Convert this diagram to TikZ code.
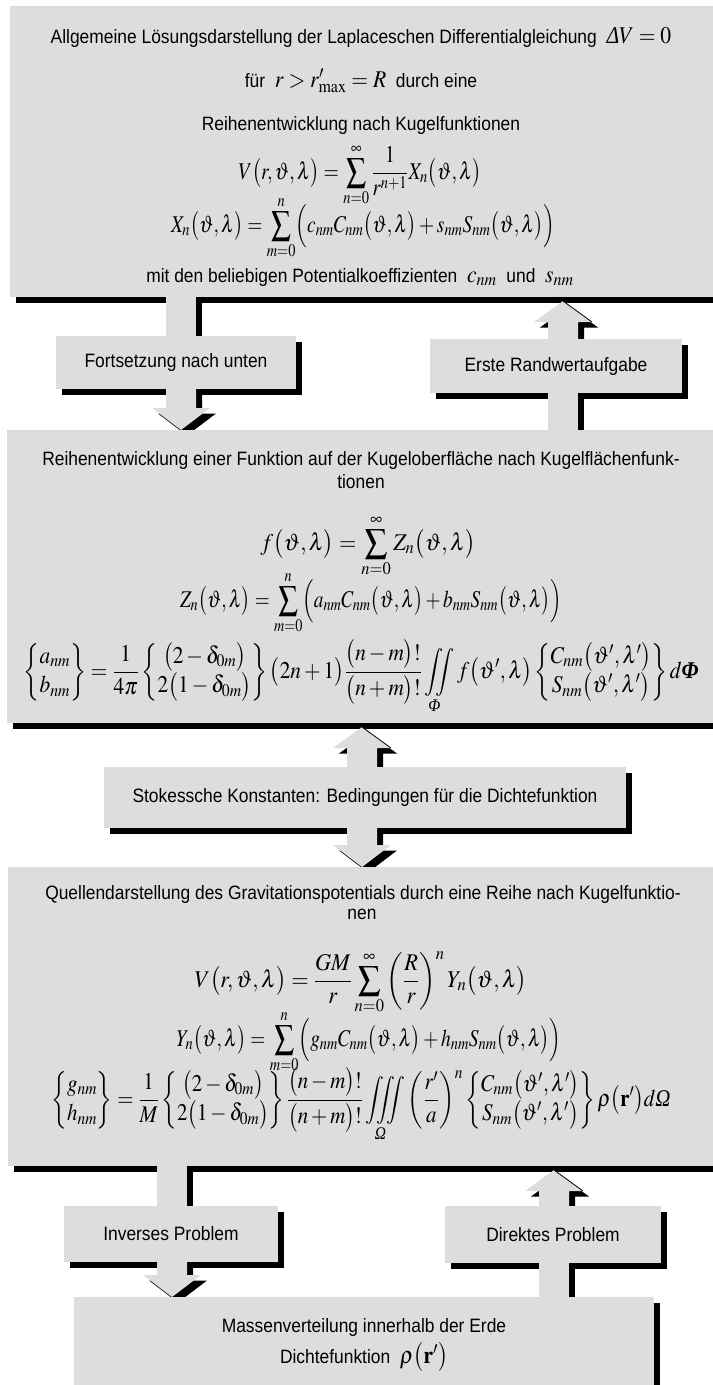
\documentclass[tikz,border=0pt]{standalone}
\usepackage{amsmath}
\usepackage{mathptmx}
\usepackage{graphicx}
\usepackage[no-math]{fontspec}
\setmainfont{Liberation Sans}
\newfontfamily\tnrfont{Liberation Serif}
\usetikzlibrary{shadows,calc}
\definecolor{boxgray}{RGB}{221,221,221}
\newcommand\txtsize{\fontsize{14.5}{17}\selectfont}
\newcommand\mthsize{\fontsize{18}{22}\selectfont}
\newcommand\sqz[2]{\scalebox{#1}[1]{#2}}
\newcommand\itGr[1]{\text{\tnrfont\itshape #1}}
\newcommand\bfGr[1]{\text{\tnrfont\bfseries\itshape #1}}
\newcommand\argTL{\bigl(\vartheta,\lambda\bigr)}
\newcommand\argTLp{\bigl(\vartheta',\lambda'\bigr)}
\newcommand\blkshaft[3]{\path[blk] (#1-15,0 |- #2) rectangle (#1+15,0 |- #3);}
\newcommand\blkdown[3]{\path[blk] (#1-15,0 |- #2) -- (#1+15,0 |- #2) -- ($(#1+15,0 |- #3)+(0,-22)$) -- ($(#1+29,0 |- #3)+(0,-22)$) -- (#1,0 |- #3) -- ($(#1-29,0 |- #3)+(0,-22)$) -- ($(#1-15,0 |- #3)+(0,-22)$) -- cycle;}
\newcommand\blkup[3]{\path[blk] (#1-15,0 |- #2) -- (#1+15,0 |- #2) -- ($(#1+15,0 |- #3)+(0,25)$) -- ($(#1+29,0 |- #3)+(0,25)$) -- ($(#1,0 |- #3)+(0,4)$) -- ($(#1-29,0 |- #3)+(0,25)$) -- ($(#1-15,0 |- #3)+(0,25)$) -- cycle;
  \draw[edge] ($(#1,0 |- #3)+(0,4)$) -- ($(#1+29,0 |- #3)+(0,25)$);}
\begin{document}
\begin{tikzpicture}[x=0.75pt,y=-0.75pt,
  blk/.style={fill=boxgray, draw=none, general shadow={fill=black, shadow xshift=4.5pt, shadow yshift=-4.125pt}},
  edge/.style={draw=black, line width=0.6pt},
  geom/.style={rectangle, inner sep=0pt, outer sep=0pt, anchor=north west, draw=none, fill=none},
  txt/.style={inner sep=0pt, font=\txtsize, anchor=base},
  frm/.style={inner sep=0pt, font=\mthsize, anchor=base},
  lbt/.style={inner sep=0pt, font=\txtsize}]
\useasboundingbox (0,0) rectangle (713,1385);
\clip (0,0) rectangle (713,1385);
% geometry of the boxes
\node[geom, minimum width=529.5pt, minimum height=218.25pt] (b1) at (10,6) {};
\node[geom, minimum width=531.75pt, minimum height=219.75pt] (b2) at (7,430) {};
\node[geom, minimum width=531pt, minimum height=224.25pt] (b3) at (8,867) {};
\node[geom, minimum width=435pt, minimum height=77.25pt] (b4) at (74,1297) {};
\node[geom, minimum width=180pt, minimum height=39.75pt] (l1) at (56,336) {};
\node[geom, minimum width=189pt, minimum height=40.5pt] (l2) at (430,339) {};
\node[geom, minimum width=391.5pt, minimum height=45.75pt] (l3) at (104,767) {};
\node[geom, minimum width=160.5pt, minimum height=42pt] (l4) at (64,1206) {};
\node[geom, minimum width=162pt, minimum height=42.75pt] (l5) at (445,1206) {};
% box 1
\path[blk] (b1.north west) rectangle (b1.south east);
\node[txt] (t1a) at (361,43) {\sqz{0.9}{Allgemeine Lösungsdarstellung der Laplaceschen Differentialgleichung\ \ {\mthsize$\itGr{Δ}V=0$}}};
\node[txt] (t1b) at (361,87) {\sqz{0.9}{für\ \ {\mthsize$r>r'_{\mathrm{max}}=R$}\ \ durch eine}};
\node[txt] (t1c) at (361,130) {\sqz{0.9}{Reihenentwicklung nach Kugelfunktionen}};
\node[frm] (f1a) at (360,179) {\sqz{0.82}{$\displaystyle V\bigl(r,\vartheta,\lambda\bigr)=\sum_{n=0}^{\infty}\frac{1}{r^{n+1}}X_n\argTL$}};
\node[frm] (f1b) at (363,232) {\sqz{0.81}{$\displaystyle X_n\argTL=\sum_{m=0}^{n}\Bigl(c_{nm}C_{nm}\argTL+s_{nm}S_{nm}\argTL\Bigr)$}};
\node[txt] (t1d) at (360,282) {\sqz{0.9}{mit den beliebigen Potentialkoeffizienten\ \ {\mthsize$c_{nm}$}\ \ und\ \ {\mthsize$s_{nm}$}}};
% connectors 1 -> labels
\blkshaft{181}{b1.south}{l1.north}
\blkup{563}{l2.north}{b1.south}
\path[blk] (l1.north west) rectangle (l1.south east);
\node[lbt] (l1t) at (l1.center) {\sqz{0.9}{Fortsetzung nach unten}};
\path[blk] (l2.north west) rectangle (l2.south east);
\node[lbt] (l2t) at (l2.center) {\sqz{0.9}{Erste Randwertaufgabe}};
\blkdown{181}{l1.south}{b2.north}
\blkshaft{563}{b2.north}{l2.south}
% box 2
\path[blk] (b2.north west) rectangle (b2.south east);
\node[txt] (t2a) at (361,465) {\sqz{0.9}{Reihenentwicklung einer Funktion auf der Kugeloberfläche nach Kugelflächenfunk-}};
\node[txt] (t2b) at (361,488) {\sqz{0.9}{tionen}};
\node[frm] (f2a) at (368,550) {\sqz{0.93}{$\displaystyle f\argTL=\sum_{n=0}^{\infty}Z_n\argTL$}};
\node[frm] (f2b) at (371,607) {\sqz{0.8}{$\displaystyle Z_n\argTL=\sum_{m=0}^{n}\Bigl(a_{nm}C_{nm}\argTL+b_{nm}S_{nm}\argTL\Bigr)$}};
\node[frm] (f2c) at (361,678) {\sqz{0.89}{\arraycolsep=2pt$\displaystyle \begin{Bmatrix}a_{nm}\\ b_{nm}\end{Bmatrix}=\frac{1}{4\pi}\begin{Bmatrix}\bigl(2-\delta_{0m}\bigr)\\ 2\bigl(1-\delta_{0m}\bigr)\end{Bmatrix}\bigl(2n+1\bigr)\frac{\bigl(n-m\bigr)!}{\bigl(n+m\bigr)!}\iint\limits_{\itGr{Φ}}f\bigl(\vartheta',\lambda\bigr)\begin{Bmatrix}C_{nm}\argTLp\\ S_{nm}\argTLp\end{Bmatrix}d\bfGr{Φ}$}};
% connectors 2 <-> 3
\blkup{362}{l3.north}{b2.south}
\path[blk] (l3.north west) rectangle (l3.south east);
\node[lbt] (l3t) at (l3.center) {\sqz{0.9}{Stokessche Konstanten: Bedingungen für die Dichtefunktion}};
\blkdown{362}{l3.south}{b3.north}
% box 3
\path[blk] (b3.north west) rectangle (b3.south east);
\node[txt] (t3a) at (363,899) {\sqz{0.9}{Quellendarstellung des Gravitationspotentials durch eine Reihe nach Kugelfunktio-}};
\node[txt] (t3b) at (362,919) {\sqz{0.9}{nen}};
\node[frm] (f3a) at (361,987) {\sqz{0.93}{$\displaystyle V\bigl(r,\vartheta,\lambda\bigr)=\frac{GM}{r}\sum_{n=0}^{\infty}\left(\frac{R}{r}\right)^{n}Y_n\argTL$}};
\node[frm] (f3b) at (369,1046) {\sqz{0.81}{$\displaystyle Y_n\argTL=\sum_{m=0}^{n}\Bigl(g_{nm}C_{nm}\argTL+h_{nm}S_{nm}\argTL\Bigr)$}};
\node[frm] (f3c) at (361,1106) {\sqz{0.87}{\arraycolsep=2pt$\displaystyle \begin{Bmatrix}g_{nm}\\ h_{nm}\end{Bmatrix}=\frac{1}{M}\begin{Bmatrix}\bigl(2-\delta_{0m}\bigr)\\ 2\bigl(1-\delta_{0m}\bigr)\end{Bmatrix}\frac{\bigl(n-m\bigr)!}{\bigl(n+m\bigr)!}\iiint\limits_{\itGr{Ω}}\left(\frac{r'}{a}\right)^{n}\begin{Bmatrix}C_{nm}\argTLp\\ S_{nm}\argTLp\end{Bmatrix}\rho\bigl(\mathbf{r}'\bigr)d\itGr{Ω}$}};
% connectors 3 <-> 4
\blkshaft{172}{b3.south}{l4.north}
\blkup{554}{l5.north}{b3.south}
\path[blk] (l4.north west) rectangle (l4.south east);
\node[lbt] (l4t) at (l4.center) {\sqz{0.9}{Inverses Problem}};
\path[blk] (l5.north west) rectangle (l5.south east);
\node[lbt] (l5t) at (l5.center) {\sqz{0.9}{Direktes Problem}};
\blkdown{172}{l4.south}{b4.north}
\blkshaft{554}{b4.north}{l5.south}
% box 4
\path[blk] (b4.north west) rectangle (b4.south east);
\node[txt] (t4a) at (364,1332) {\sqz{0.9}{Massenverteilung innerhalb der Erde}};
\node[txt] (t4b) at (364,1363) {\sqz{0.9}{Dichtefunktion\ \ {\mthsize$\rho\bigl(\mathbf{r}'\bigr)$}}};
\end{tikzpicture}
\end{document}
